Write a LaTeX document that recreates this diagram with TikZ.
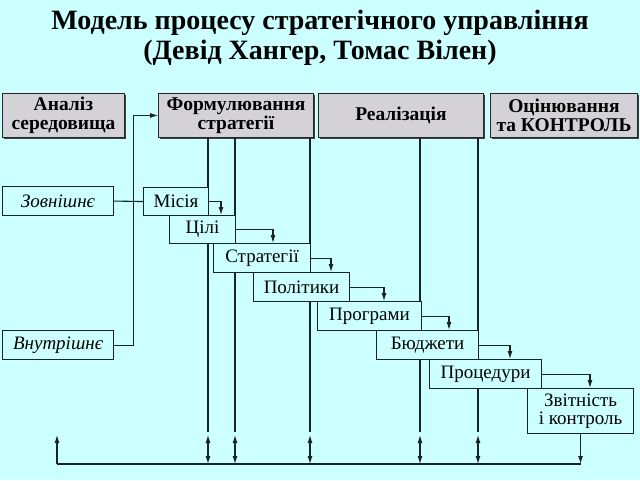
\documentclass[tikz,border=0pt]{standalone}
\usepackage{fontspec}
\setmainfont{Liberation Serif}
\usetikzlibrary{arrows.meta,calc,shadows}
\definecolor{bgcyan}{RGB}{204,255,255}
\definecolor{hdrgray}{RGB}{212,210,214}
\definecolor{linecol}{RGB}{25,35,35}
\begin{document}
\begin{tikzpicture}[x=1pt,y=-1pt,
    hdr/.style={draw=black!85,fill=hdrgray,line width=0.9pt,inner sep=0pt,
      anchor=north west,align=center,font=\fontsize{19.5}{19}\selectfont\bfseries,
      drop shadow={shadow xshift=1.5pt,shadow yshift=-1.5pt,fill=black!75,opacity=1}},
    stepbox/.style={draw=linecol,fill=bgcyan,line width=1.1pt,inner sep=0pt,
      anchor=north west,align=center,font=\fontsize{19}{18}\selectfont},
    srcbox/.style={stepbox,font=\fontsize{19}{18}\selectfont\itshape},
    ln/.style={draw=linecol,line width=1.1pt},
    arr/.style={ln,-{Latex[length=8pt,width=5pt]}},
    dblarr/.style={ln,{Latex[length=8pt,width=5pt]}-{Latex[length=8pt,width=5pt]}}]
  \fill[bgcyan] (0,0) rectangle (640,480);
  % title
  \node[align=center,font=\fontsize{28}{30}\selectfont\bfseries] (title) at (320,38)
    {Модель процесу стратегічного управління\\(Девід Хангер, Томас Вілен)};
  % header row
  \node[hdr,minimum width=122pt,minimum height=44pt] (analiz) at (2,93) {Аналіз\\середовища};
  \node[hdr,minimum width=155pt,minimum height=44pt] (formul) at (158,93) {Формулювання\\стратегії};
  \node[hdr,minimum width=165pt,minimum height=44pt] (realiz) at (318,93) {Реалізація};
  \node[hdr,minimum width=147pt,minimum height=44pt] (ocin) at (490,93) {Оцінювання\\та КОНТРОЛЬ};
  % helper levels
  \coordinate (lowend) at (0,432);
  \coordinate (dbltop) at (0,435);
  \coordinate (bl) at (57,464);
  % long verticals (drawn first, boxes lie over them)
  \draw[ln] (208,0 |- formul.south) -- (208,0 |- lowend);
  \draw[ln] (235,0 |- formul.south) -- (235,0 |- lowend);
  \draw[ln] (310,0 |- formul.south) -- (310,0 |- lowend);
  \draw[ln] (420,0 |- realiz.south) -- (420,0 |- lowend);
  \draw[ln] (478,0 |- realiz.south) -- (478,0 |- lowend);
  % environment
  \node[srcbox,minimum width=111pt,minimum height=29pt] (zovn) at (2,186) {Зовнішнє};
  \node[srcbox,minimum width=111pt,minimum height=29pt] (vnutr) at (2,330) {Внутрішнє};
  % steps
  \node[stepbox,minimum width=65pt,minimum height=28pt] (misia) at (143,187) {Місія};
  \node[stepbox,minimum width=66pt,minimum height=28pt] (cili) at (169,215) {Цілі};
  \node[stepbox,minimum width=97pt,minimum height=29pt] (strat) at (213,243) {Стратегії};
  \node[stepbox,minimum width=96pt,minimum height=29pt] (polit) at (253,272) {Політики};
  \node[stepbox,minimum width=104pt,minimum height=29pt] (progr) at (317,301) {Програми};
  \node[stepbox,minimum width=102pt,minimum height=29pt] (budzh) at (376,330) {Бюджети};
  \node[stepbox,minimum width=112pt,minimum height=29pt] (proced) at (429,359) {Процедури};
  \node[stepbox,minimum width=106pt,minimum height=45pt] (zvit) at (527,388) {Звітність\\і контроль};
  % inputs
  \draw[ln] (zovn.east) -- (misia.west);
  \coordinate (turn) at (133,0);
  \draw[arr,line width=0.8pt] (vnutr.east) -| (turn |- formul.west) -- (formul.west);
  % step arrows
  \draw[arr] (misia.east) -| ($(cili.north west)+(52,0)$);
  \draw[arr] (cili.east) -| ($(strat.north west)+(60,0)$);
  \draw[arr] (strat.east) -| ($(polit.north west)+(78,0)$);
  \draw[arr] (polit.east) -| ($(progr.north west)+(67,0)$);
  \draw[arr] (progr.east) -| ($(budzh.north west)+(73,0)$);
  \draw[arr] (budzh.east) -| ($(proced.north west)+(81,0)$);
  \draw[arr] (proced.east) -| ($(zvit.north west)+(63,0)$);
  % feedback
  \coordinate (br) at (zvit.south |- bl);
  \draw[ln] (bl) -- (br);
  \draw[arr] (zvit.south) -- (br);
  \draw[arr] (bl) -- (bl |- dbltop);
  \draw[dblarr] (208,0 |- dbltop) -- (208,0 |- bl);
  \draw[dblarr] (235,0 |- dbltop) -- (235,0 |- bl);
  \draw[dblarr] (310,0 |- dbltop) -- (310,0 |- bl);
  \draw[dblarr] (420,0 |- dbltop) -- (420,0 |- bl);
  \draw[dblarr] (478,0 |- dbltop) -- (478,0 |- bl);
\end{tikzpicture}
\end{document}
